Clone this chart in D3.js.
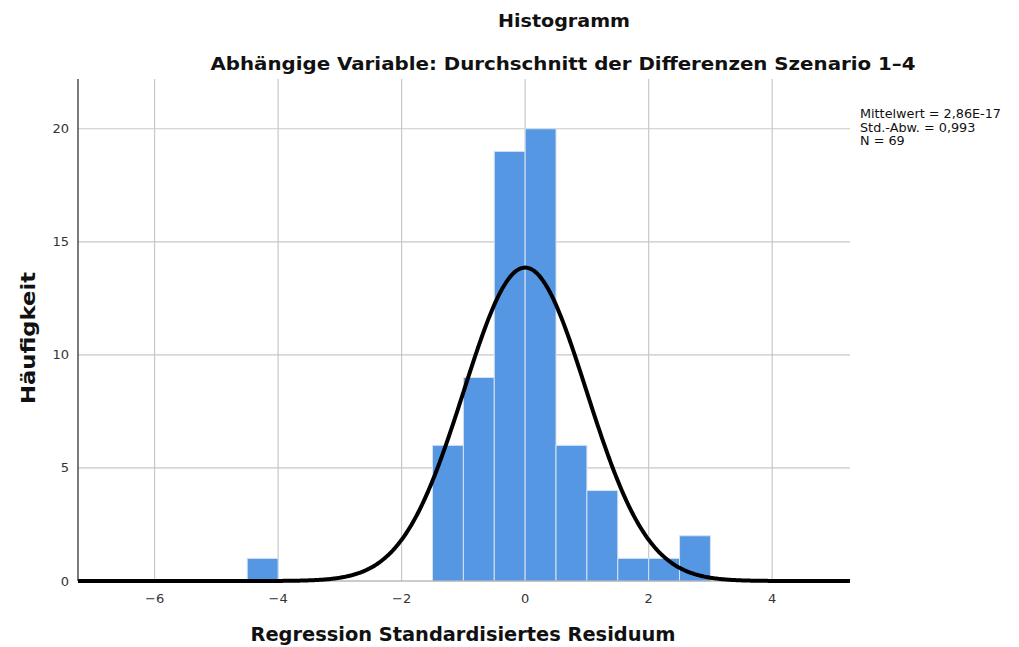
<!DOCTYPE html>
<html><head><meta charset="utf-8">
<script src="https://cdn.jsdelivr.net/npm/d3@7"></script>
<style>body{margin:0;background:#fff;} text{font-family:"DejaVu Sans",sans-serif;}</style>
</head><body>
<svg id="c" width="1019" height="647"></svg>
<script>
const binStarts = [-4.5, -1.5, -1.0, -0.5, 0.0, 0.5, 1.0, 1.5, 2.0, 2.5];
const binCounts = [1, 6, 9, 19, 20, 6, 4, 1, 1, 2];
const binWidth = 0.5;
const xTicks = [-6, -4, -2, 0, 2, 4];
const yTicks = [0, 5, 10, 15, 20];
const statsMean = 2.86e-17, statsSd = 0.993, statsN = 69;
const legendLines = ["Mittelwert = 2,86E-17", "Std.-Abw. = 0,993", "N = 69"];

const svg = d3.select("#c");
const L = 78, R = 850, T = 79, B = 581;
const x = d3.scaleLinear().domain([-7.24, 5.26]).range([L, R]);
const y = d3.scaleLinear().domain([0, 22.2]).range([B, T]);

// horizontal grid
svg.append("g").selectAll("line").data(yTicks.filter(d=>d>0)).join("line")
  .attr("x1", L).attr("x2", R).attr("y1", d=>y(d)).attr("y2", d=>y(d))
  .attr("stroke", "#c8c8c8").attr("stroke-width", 1.2);
// vertical grid
svg.append("g").selectAll("line").data(xTicks).join("line")
  .attr("x1", d=>x(d)).attr("x2", d=>x(d)).attr("y1", T).attr("y2", B)
  .attr("stroke", "#c8c8c8").attr("stroke-width", 1.2);

// bars
svg.append("g").selectAll("rect").data(binStarts.map((s,i)=>({s, c: binCounts[i]}))).join("rect")
  .attr("x", d=>x(d.s)).attr("width", d=>x(d.s+binWidth)-x(d.s))
  .attr("y", d=>y(d.c)).attr("height", d=>y(0)-y(d.c))
  .attr("fill", "#5597e3").attr("stroke", "#d6e2f2").attr("stroke-width", 1);

// axes lines
svg.append("line").attr("x1", L).attr("x2", L).attr("y1", T).attr("y2", B)
  .attr("stroke", "#222").attr("stroke-width", 1.2);
svg.append("line").attr("x1", L).attr("x2", R).attr("y1", B).attr("y2", B)
  .attr("stroke", "#999").attr("stroke-width", 1);

// normal curve defined by the displayed statistics
const pts = d3.range(-7.24, 5.2601, 0.02).map(v => [v,
  statsN * binWidth * Math.exp(-0.5 * Math.pow((v - statsMean) / statsSd, 2)) / (statsSd * Math.sqrt(2 * Math.PI))]);
svg.append("path").datum(pts)
  .attr("d", d3.line().x(d=>x(d[0])).y(d=>y(d[1])).curve(d3.curveBasis))
  .attr("fill", "none").attr("stroke", "#000").attr("stroke-width", 4);

// tick labels
svg.append("g").selectAll("text").data(xTicks).join("text")
  .attr("x", d=>x(d)).attr("y", 603).attr("text-anchor", "middle")
  .attr("font-size", 13).attr("fill", "#333")
  .text(d => d < 0 ? "\u2212" + Math.abs(d) : d);
svg.append("g").selectAll("text").data(yTicks).join("text")
  .attr("x", 69).attr("y", d=>y(d)+4.5).attr("text-anchor", "end")
  .attr("font-size", 13).attr("fill", "#333").text(d=>d);

// titles
svg.append("text").attr("x", 564).attr("y", 27).attr("text-anchor", "middle")
  .attr("font-size", 18.5).attr("font-weight", "bold").attr("fill", "#111")
  .attr("textLength", 132).attr("lengthAdjust", "spacingAndGlyphs").text("Histogramm");
svg.append("text").attr("x", 563).attr("y", 70).attr("text-anchor", "middle")
  .attr("font-size", 18.5).attr("font-weight", "bold").attr("fill", "#111")
  .attr("textLength", 705).attr("lengthAdjust", "spacingAndGlyphs")
  .text("Abhängige Variable: Durchschnitt der Differenzen Szenario 1\u20134");
svg.append("text").attr("x", 463).attr("y", 641).attr("text-anchor", "middle")
  .attr("font-size", 19.5).attr("font-weight", "bold").attr("fill", "#111")
  .attr("textLength", 425).attr("lengthAdjust", "spacingAndGlyphs")
  .text("Regression Standardisiertes Residuum");
svg.append("text").attr("transform", "translate(35,338) rotate(-90)").attr("text-anchor", "middle")
  .attr("font-size", 20).attr("font-weight", "bold").attr("fill", "#111")
  .attr("textLength", 132).attr("lengthAdjust", "spacingAndGlyphs").text("Häufigkeit");

// legend
svg.append("g").selectAll("text").data(legendLines).join("text")
  .attr("x", 860).attr("y", (d,i)=>118 + i*13.5)
  .attr("font-size", 12.8).attr("fill", "#111").text(d=>d);
</script>
</body></html>
